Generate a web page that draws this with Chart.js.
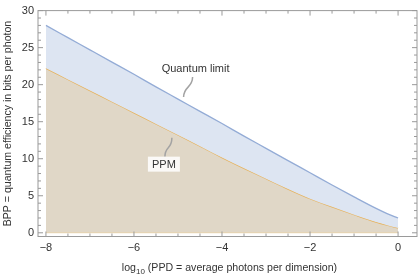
<!DOCTYPE html>
<html>
<head>
<meta charset="utf-8">
<script src="https://cdn.jsdelivr.net/npm/chart.js@4.4.1/dist/chart.umd.min.js"></script>
<style>
  html, body { margin: 0; padding: 0; background: #fff; }
  canvas { display: block; }
</style>
</head>
<body>
<canvas id="grafico" width="419" height="276"></canvas>
<script>
// valores
const logPPD = [-8, -7.5, -7, -6.5, -6, -5.5, -5, -4.5, -4, -3.5, -3, -2.5, -2, -1.5, -1, -0.5, -0.25, 0];
const quantumLimit = [28.0, 26.35, 24.7, 23.05, 21.4, 19.7, 18.05, 16.4, 14.75, 13.05, 11.4, 9.75, 8.1, 6.45, 4.85, 3.3, 2.6, 2.0];
const ppm = [22.2, 20.7, 19.2, 17.7, 16.2, 14.7, 13.2, 11.7, 10.15, 8.7, 7.3, 5.9, 4.6, 3.5, 2.45, 1.45, 1.03, 0.66];
const xTicks = [-8, -6, -4, -2, 0];
const yTicks = [0, 5, 10, 15, 20, 25, 30];

const fonte = "'Liberation Sans', Arial, sans-serif";
const corTexto = '#333';
const corMoldura = '#9a9a9a';

const pontos = (ys) => logPPD.map((x, i) => ({ x: x, y: ys[i] }));
const menos = (v) => v < 0 ? '\u2212' + Math.abs(v) : String(v);

// moldura com marcas para dentro, títulos e rótulos
const moldura = {
    id: 'moldura',
    afterDatasetsDraw(chart) {
        const { ctx, chartArea: a, scales } = chart;
        const sx = scales.x, sy = scales.y;
        ctx.save();

        // linha de base do PPM
        ctx.strokeStyle = 'rgba(225,185,115,0.45)';
        ctx.lineWidth = 1;
        ctx.beginPath();
        ctx.moveTo(sx.getPixelForValue(-8), sy.getPixelForValue(0));
        ctx.lineTo(sx.getPixelForValue(0), sy.getPixelForValue(0));
        ctx.stroke();

        ctx.strokeStyle = corMoldura;
        ctx.lineWidth = 1;
        ctx.strokeRect(a.left, a.top, a.right - a.left, a.bottom - a.top);

        ctx.beginPath();
        for (let v = -8; v <= 0.001; v += 0.5) {
            const px = sx.getPixelForValue(v);
            const len = Number.isInteger(v / 2) ? 5 : 3;
            ctx.moveTo(px, a.bottom); ctx.lineTo(px, a.bottom - len);
            ctx.moveTo(px, a.top); ctx.lineTo(px, a.top + len);
        }
        for (let v = 0; v <= 30; v += 1) {
            const py = sy.getPixelForValue(v);
            const len = v % 5 === 0 ? 5 : 3;
            ctx.moveTo(a.left, py); ctx.lineTo(a.left + len, py);
            ctx.moveTo(a.right, py); ctx.lineTo(a.right - len, py);
        }
        ctx.stroke();

        // anotações
        ctx.fillStyle = corTexto;
        ctx.font = '11px ' + fonte;
        ctx.textAlign = 'center';
        ctx.textBaseline = 'middle';
        const qx = sx.getPixelForValue(-4.6), qy = sy.getPixelForValue(22.1);
        ctx.fillText('Quantum limit', qx, qy);
        ctx.strokeStyle = '#a3a3a3';
        ctx.lineWidth = 1.5;
        ctx.beginPath();
        ctx.moveTo(qx - 3, qy + 8);
        ctx.bezierCurveTo(qx - 3, qy + 19, qx - 12, qy + 17, qx - 12, qy + 28);
        ctx.stroke();

        const px = sx.getPixelForValue(-5.32), py = sy.getPixelForValue(9.2);
        ctx.beginPath();
        ctx.moveTo(px + 1, py - 8);
        ctx.bezierCurveTo(px + 1, py - 19, px + 8, py - 15, px + 8, py - 27);
        ctx.stroke();
        ctx.fillStyle = 'rgba(255,255,255,0.85)';
        ctx.fillRect(px - 16, py - 8, 32, 15);
        ctx.fillStyle = corTexto;
        ctx.fillText('PPM', px, py);

        // títulos dos eixos
        ctx.font = '10.6px ' + fonte;
        const tx = (a.left + a.right) / 2 + 2, ty = 268;
        const w1 = ctx.measureText('log').width;
        ctx.font = '8px ' + fonte;
        const w2 = ctx.measureText('10').width;
        ctx.font = '10.6px ' + fonte;
        const resto = ' (PPD = average photons per dimension)';
        const w3 = ctx.measureText(resto).width;
        let x0 = tx - (w1 + w2 + w3) / 2;
        ctx.textAlign = 'left';
        ctx.fillText('log', x0, ty);
        ctx.font = '8px ' + fonte;
        ctx.fillText('10', x0 + w1, ty + 4);
        ctx.font = '10.6px ' + fonte;
        ctx.fillText(resto, x0 + w1 + w2, ty);

        ctx.translate(8, (a.top + a.bottom) / 2);
        ctx.rotate(-Math.PI / 2);
        ctx.textAlign = 'center';
        ctx.fillText('BPP = quantum efficiency in bits per photon', 0, 0);
        ctx.restore();
    }
};

const ctx = document.getElementById('grafico').getContext('2d');
new Chart(ctx, {
    type: 'line',
    data: {
        datasets: [{
            label: 'Quantum limit',
            data: pontos(quantumLimit),
            borderColor: '#94acd6',
            backgroundColor: '#dde5f2',
            borderWidth: 1.3,
            fill: '+1',
            pointRadius: 0,
            cubicInterpolationMode: 'monotone'
        }, {
            label: 'PPM',
            data: pontos(ppm),
            borderColor: '#e6b35e',
            backgroundColor: '#e0d7c7',
            borderWidth: 1.3,
            fill: 'origin',
            pointRadius: 0,
            cubicInterpolationMode: 'monotone'
        }]
    },
    options: {
        responsive: false,
        devicePixelRatio: 1,
        animation: false,
        layout: { padding: { top: 5, right: 2, left: 0, bottom: 0 } },
        plugins: { legend: { display: false }, tooltip: { enabled: false } },
        scales: {
            x: {
                type: 'linear',
                min: -8.18, max: 0.43,
                grid: { display: false, drawTicks: false },
                border: { display: false },
                afterFit: (s) => { s.height = 39.5; },
                afterBuildTicks: (s) => { s.ticks = xTicks.map(v => ({ value: v })); },
                ticks: {
                    padding: 5,
                    color: corTexto,
                    font: { family: fonte, size: 11 },
                    callback: (v) => menos(v)
                }
            },
            y: {
                type: 'linear',
                min: -0.5, max: 30,
                grid: { display: false, drawTicks: false },
                border: { display: false },
                afterFit: (s) => { s.width = 38; },
                afterBuildTicks: (s) => { s.ticks = yTicks.map(v => ({ value: v })); },
                ticks: {
                    padding: 4,
                    color: corTexto,
                    font: { family: fonte, size: 11 },
                    callback: (v) => menos(v)
                }
            }
        }
    },
    plugins: [moldura]
});
</script>
</body>
</html>
